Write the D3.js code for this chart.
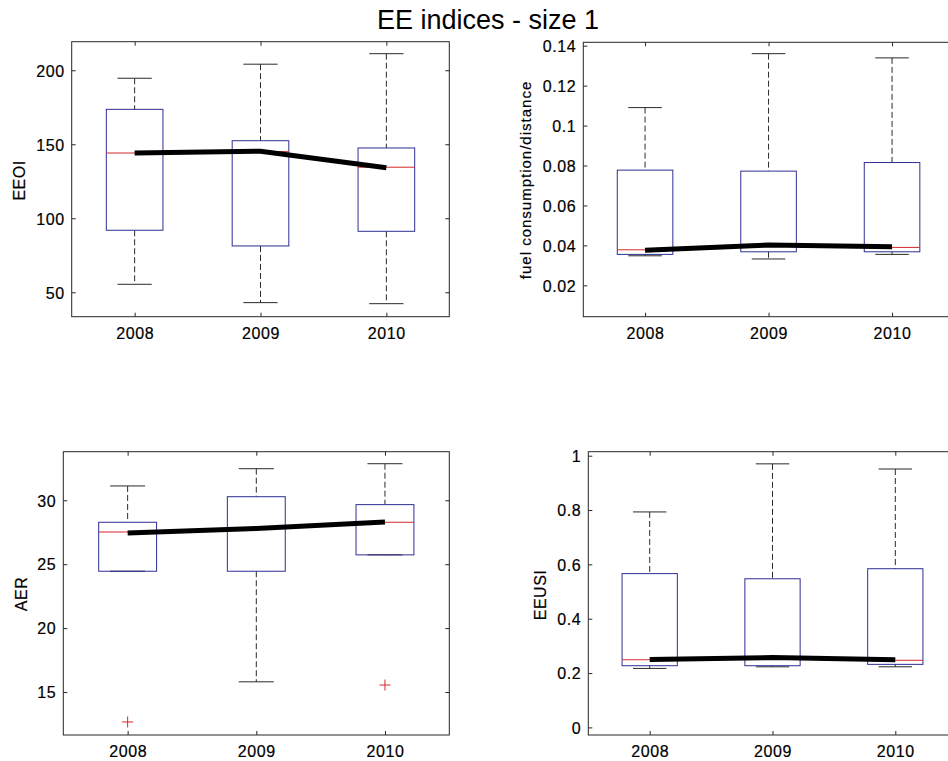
<!DOCTYPE html>
<html><head><meta charset="utf-8">
<script src="https://cdn.jsdelivr.net/npm/d3@7"></script>
<style>
body{margin:0;background:#fff}
text{font-family:"Liberation Sans",Arial,Helvetica,sans-serif;fill:#000;stroke:#000;stroke-width:0.2px}
text.title{stroke:none}
</style>
</head><body>
<svg id="c" width="948" height="761"></svg>
<script>
// ---------- data ----------
const years = ["2008", "2009", "2010"];
const chartTitle = "EE indices - size 1";

// EEOI
const eeoiUpper   = [194.6, 204.1, 211.2];
const eeoiQ3      = [173.6, 152.4, 147.5];
const eeoiMedian  = [144.1, 145.0, 134.5];
const eeoiQ1      = [91.9, 81.3, 91.2];
const eeoiLower   = [55.4, 43.0, 42.3];
const eeoiOutliers = [[], [], []];
const eeoiTrend   = [144.1, 145.3, 134.2];
const eeoiTicks   = [50, 100, 150, 200];
const eeoiTickLabels = ["50", "100", "150", "200"];

// fuel consumption / distance
const fuelUpper   = [0.1090, 0.1360, 0.1339];
const fuelQ3      = [0.0777, 0.0772, 0.0815];
const fuelMedian  = [0.0378, 0.0405, 0.0390];
const fuelQ1      = [0.0355, 0.0368, 0.0368];
const fuelLower   = [0.0348, 0.0332, 0.0355];
const fuelOutliers = [[], [], []];
const fuelTrend   = [0.0376, 0.0402, 0.0393];
const fuelTicks   = [0.02, 0.04, 0.06, 0.08, 0.10, 0.12, 0.14];
const fuelTickLabels = ["0.02", "0.04", "0.06", "0.08", "0.1", "0.12", "0.14"];

// AER
const aerUpper    = [31.12, 32.47, 32.86];
const aerQ3       = [28.28, 30.28, 29.66];
const aerMedian   = [27.52, 27.80, 28.28];
const aerQ1       = [24.45, 24.45, 25.73];
const aerLower    = [24.45, 15.80, 25.73];
const aerOutliers = [[12.66], [], [15.55]];
const aerTrend    = [27.45, 27.80, 28.30];
const aerTicks    = [15, 20, 25, 30];
const aerTickLabels = ["15", "20", "25", "30"];

// EEUSI
const eeusiUpper  = [0.793, 0.970, 0.951];
const eeusiQ3     = [0.566, 0.547, 0.584];
const eeusiMedian = [0.249, 0.258, 0.247];
const eeusiQ1     = [0.227, 0.227, 0.232];
const eeusiLower  = [0.217, 0.223, 0.223];
const eeusiOutliers = [[], [], []];
const eeusiTrend  = [0.250, 0.257, 0.249];
const eeusiTicks  = [0, 0.2, 0.4, 0.6, 0.8, 1];
const eeusiTickLabels = ["0", "0.2", "0.4", "0.6", "0.8", "1"];

// ---------- layout ----------
const panels = [
  {label:"EEOI", up:eeoiUpper, q3:eeoiQ3, med:eeoiMedian, q1:eeoiQ1, lo:eeoiLower, out:eeoiOutliers, trend:eeoiTrend,
   ticks:eeoiTicks, tickLabels:eeoiTickLabels, domain:[33.5,219.3],
   box:{l:71.7, r:449.3, t:41.7, b:316.7}, ylab:{x:25, y:180.5, size:16}},
  {label:"fuel consumption/distance", up:fuelUpper, q3:fuelQ3, med:fuelMedian, q1:fuelQ1, lo:fuelLower, out:fuelOutliers, trend:fuelTrend,
   ticks:fuelTicks, tickLabels:fuelTickLabels, domain:[0.0043,0.1417],
   box:{l:583.3, r:953.8, t:42.3, b:316.7}, ylab:{x:531, y:180, size:15}},
  {label:"AER", up:aerUpper, q3:aerQ3, med:aerMedian, q1:aerQ1, lo:aerLower, out:aerOutliers, trend:aerTrend,
   ticks:aerTicks, tickLabels:aerTickLabels, domain:[11.64,33.8],
   box:{l:63.3, r:449.3, t:451.7, b:735}, ylab:{x:26.7, y:594, size:16}},
  {label:"EEUSI", up:eeusiUpper, q3:eeusiQ3, med:eeusiMedian, q1:eeusiQ1, lo:eeusiLower, out:eeusiOutliers, trend:eeusiTrend,
   ticks:eeusiTicks, tickLabels:eeusiTickLabels, domain:[-0.028,1.0147],
   box:{l:588.3, r:956.7, t:451.7, b:735}, ylab:{x:545.7, y:595, size:16}}
];

const svg = d3.select("#c");

svg.append("text")
  .attr("class", "title")
  .attr("x", 488).attr("y", 29.3)
  .attr("text-anchor", "middle")
  .style("font-size", "27px")
  .text(chartTitle);

const axisColor = "#262626";
const boxColor = "#2e2e96";
const medColor = "#d42a2a";
const whiskColor = "#2a2a2a";

panels.forEach(p => {
  const B = p.box;
  const x = d3.scalePoint().domain(years).range([B.l, B.r]).padding(0.5);
  const y = d3.scaleLinear().domain(p.domain).range([B.b, B.t]);
  const step = x.step();
  const bw = step * 0.225;   // box half-width
  const cw = step * 0.136;   // cap half-width
  const g = svg.append("g");

  const rows = years.map((yr, i) => ({yr, up:p.up[i], q3:p.q3[i], med:p.med[i], q1:p.q1[i], lo:p.lo[i], out:p.out[i]}));

  // axes (ticks inward, mirrored)
  const fmt = (d) => p.tickLabels[p.ticks.indexOf(d)];
  const ax = [
    g.append("g").attr("transform", `translate(${B.l},0)`).call(d3.axisLeft(y).tickValues(p.ticks).tickFormat(fmt).tickSizeInner(-4).tickSizeOuter(0).tickPadding(7)),
    g.append("g").attr("transform", `translate(${B.r},0)`).call(d3.axisRight(y).tickValues(p.ticks).tickFormat("").tickSizeInner(-4).tickSizeOuter(0)),
    g.append("g").attr("transform", `translate(0,${B.b})`).call(d3.axisBottom(x).tickSizeInner(-4).tickSizeOuter(0).tickPadding(11)),
    g.append("g").attr("transform", `translate(0,${B.t})`).call(d3.axisTop(x).tickFormat("").tickSizeInner(-4).tickSizeOuter(0))
  ];
  ax.forEach(a => {
    a.select(".domain").remove();
    a.selectAll(".tick line").attr("stroke", axisColor);
    a.selectAll(".tick text").style("font-size", "16px").style("letter-spacing", "0.6px")
      .attr("font-family", null).attr("fill", "#000");
  });
  ax[0].selectAll(".tick text").attr("dy", "0.36em");

  g.append("rect")
    .attr("x", B.l).attr("y", B.t).attr("width", B.r - B.l).attr("height", B.b - B.t)
    .attr("fill", "none").attr("stroke", axisColor).attr("stroke-width", 1);

  // whiskers
  g.selectAll(".wu").data(rows).join("line")
    .attr("x1", d => x(d.yr)).attr("x2", d => x(d.yr))
    .attr("y1", d => y(d.up)).attr("y2", d => y(d.q3))
    .attr("stroke", whiskColor).attr("stroke-dasharray", "6,3");
  g.selectAll(".wl").data(rows).join("line")
    .attr("x1", d => x(d.yr)).attr("x2", d => x(d.yr))
    .attr("y1", d => y(d.q1)).attr("y2", d => y(d.lo))
    .attr("stroke", whiskColor).attr("stroke-dasharray", "6,3");
  // caps
  rows.forEach(d => {
    [d.up, d.lo].forEach(v => {
      g.append("line")
        .attr("x1", x(d.yr) - cw).attr("x2", x(d.yr) + cw)
        .attr("y1", y(v)).attr("y2", y(v))
        .attr("stroke", whiskColor).attr("stroke-width", 1);
    });
  });
  // boxes
  g.selectAll(".bx").data(rows).join("rect")
    .attr("x", d => x(d.yr) - bw).attr("width", 2 * bw)
    .attr("y", d => y(d.q3)).attr("height", d => y(d.q1) - y(d.q3))
    .attr("fill", "none").attr("stroke", boxColor).attr("stroke-width", 1);
  // medians
  g.selectAll(".md").data(rows).join("line")
    .attr("x1", d => x(d.yr) - bw).attr("x2", d => x(d.yr) + bw)
    .attr("y1", d => y(d.med)).attr("y2", d => y(d.med))
    .attr("stroke", medColor).attr("stroke-width", 1);
  // outliers
  rows.forEach(d => {
    d.out.forEach(v => {
      const cx = x(d.yr), cy = y(v), s = 5.5;
      g.append("path")
        .attr("d", `M${cx - s},${cy}H${cx + s}M${cx},${cy - s}V${cy + s}`)
        .attr("stroke", medColor).attr("stroke-width", 1).attr("fill", "none");
    });
  });
  // trend line
  g.append("path")
    .datum(years.map((yr, i) => [x(yr), y(p.trend[i])]))
    .attr("d", d3.line())
    .attr("fill", "none").attr("stroke", "#000").attr("stroke-width", 5);

  // y label
  svg.append("text")
    .attr("transform", `translate(${p.ylab.x},${p.ylab.y}) rotate(-90)`)
    .attr("text-anchor", "middle")
    .style("font-size", p.ylab.size + "px")
    .style("letter-spacing", p.label.length > 10 ? "1px" : "0.5px")
    .text(p.label);
});
</script>
</body></html>
